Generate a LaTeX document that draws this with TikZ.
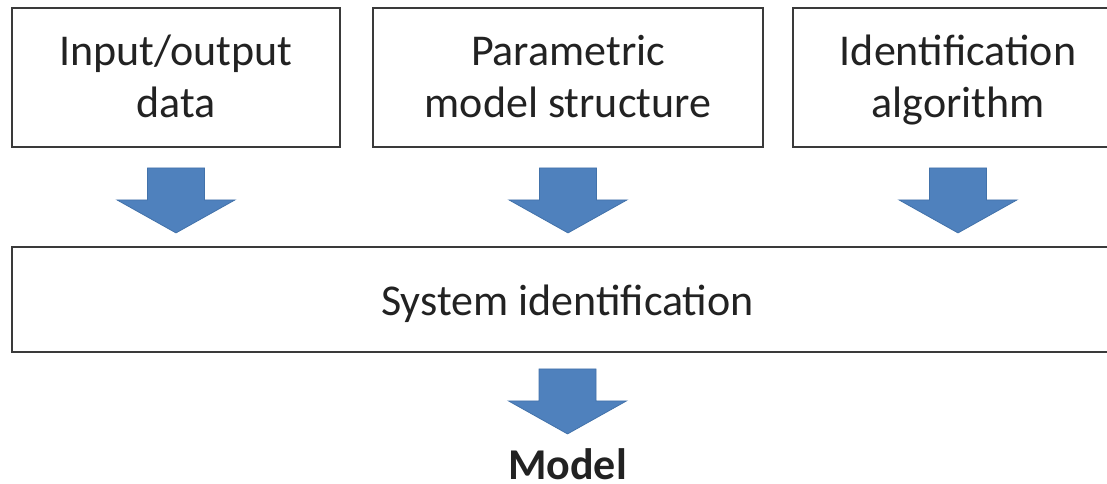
\documentclass[tikz,border=0pt]{standalone}
\usepackage{fontspec}
\setmainfont{Carlito}
\usetikzlibrary{calc}
\definecolor{boxline}{HTML}{3A3A3A}
\definecolor{txt}{HTML}{222222}
\definecolor{arrfill}{HTML}{4F81BD}
\definecolor{arrline}{HTML}{4272AA}
\begin{document}
\begin{tikzpicture}[x=1pt,y=-1pt,
  box/.style={draw=boxline, line width=1.8pt, fill=white, inner sep=0pt},
  lbl/.style={text=txt, inner sep=0pt, anchor=base, font=\fontsize{44}{52}\selectfont},
  barrow/.pic={\path[fill=arrfill, draw=arrline, line width=0.8pt]
    (-28.5,0) -- (28.5,0) -- (28.5,32) -- (59,32) -- (0,65) -- (-59,32) -- (-28.5,32) -- cycle;}
]
\useasboundingbox (0,0) rectangle (1107,483);
\node[box, minimum width=328pt, minimum height=139pt] (b1) at (176,77.5) {};
\node[box, minimum width=390pt, minimum height=139pt] (b2) at (568,77.5) {};
\node[box, minimum width=330pt, minimum height=139pt] (b3) at (958,77.5) {};
\node[box, minimum width=1111pt, minimum height=105pt] (sys) at (567.5,299.5) {};
\node[lbl] (b1a) at (b1.center |- 0,65) {Input/output};
\node[lbl] (b1b) at (b1.center |- 0,117) {data};
\node[lbl] (b2a) at (b2.center |- 0,65) {Parametric};
\node[lbl] (b2b) at (b2.center |- 0,117) {model structure};
\node[lbl] (b3a) at (b3.center |- 0,65) {Identification};
\node[lbl] (b3b) at (b3.center |- 0,117) {algorithm};
\node[lbl] (syst) at (sys.center |- 0,315) {System identification};
\node[lbl, font=\fontsize{44}{52}\bfseries\selectfont] (model) at (567.5,479) {Model};
\pic at ($(b1.south)+(0,20)$) {barrow};
\pic at ($(b2.south)+(0,20)$) {barrow};
\pic at ($(b3.south)+(0,20)$) {barrow};
\pic at ($(sys.south)+(0,16)$) {barrow};
\end{tikzpicture}
\end{document}
